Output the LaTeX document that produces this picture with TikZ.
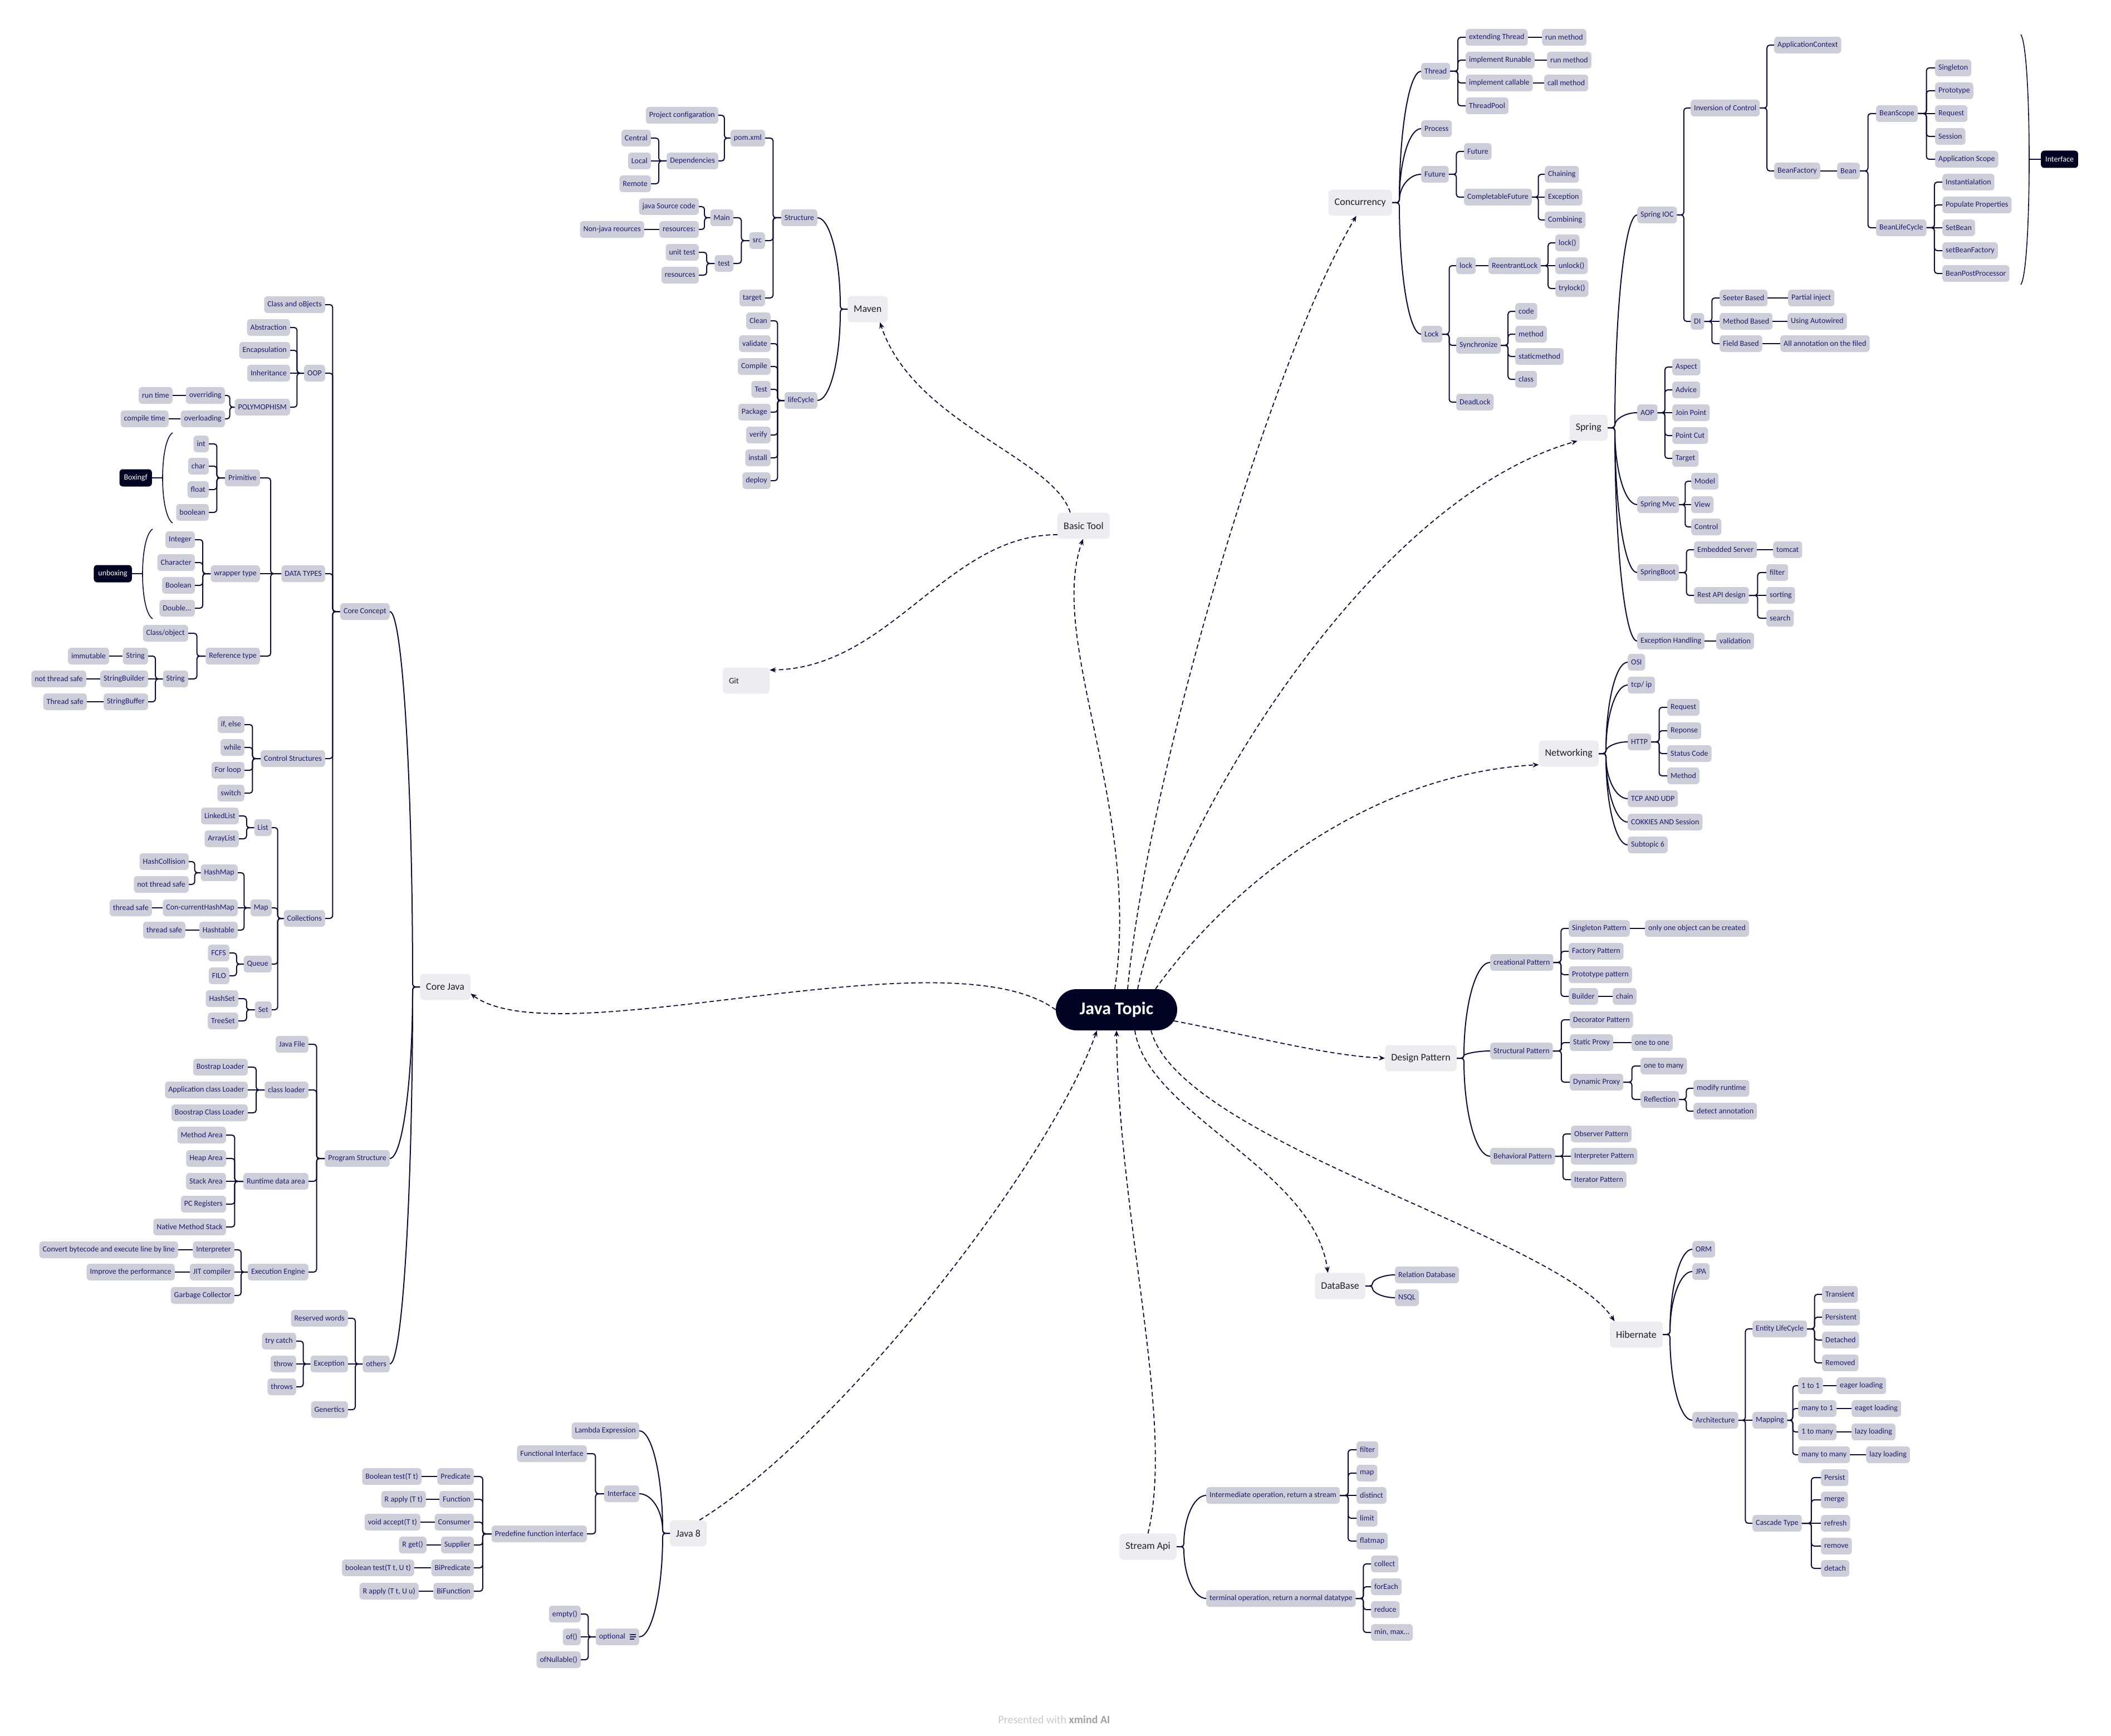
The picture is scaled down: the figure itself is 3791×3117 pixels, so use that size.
\documentclass[tikz,border=0pt]{standalone}
\usepackage{fontspec}
\setmainfont{Carlito}
\usetikzlibrary{arrows.meta, calc}
\usepackage{xcolor}

\definecolor{leafgray}{RGB}{206,206,218}
\definecolor{leafink}{RGB}{28,28,104}
\definecolor{topicgray}{RGB}{237,236,240}
\definecolor{topicink}{RGB}{30,30,40}
\definecolor{hubnavy}{RGB}{3,3,36}
\definecolor{linenavy}{RGB}{12,12,52}
\definecolor{footgray}{RGB}{200,200,206}
\definecolor{footdark}{RGB}{160,160,170}

\tikzset{
  leaf/.style={fill=leafgray, text=leafink, rounded corners=6pt, minimum height=30pt, inner xsep=6pt, inner ysep=2pt, font=\fontsize{14}{16}\selectfont},
  lleaf/.style={leaf, anchor=east},
  rleaf/.style={leaf, anchor=west},
  topic/.style={fill=topicgray, text=topicink, rounded corners=7pt, minimum height=47pt, inner xsep=11pt, font=\fontsize{18}{20}\selectfont},
  hub/.style={fill=hubnavy, text=white, rounded corners=37pt, minimum height=74pt, minimum width=218pt, font=\fontsize{32}{36}\selectfont\bfseries},
  tag/.style={fill=hubnavy, text=white, rounded corners=6pt, minimum height=31pt, inner xsep=8pt, font=\fontsize{14}{16}\selectfont},
  br/.style={draw=linenavy, line width=2pt, rounded corners=5pt},
  brk/.style={draw=linenavy, line width=1.6pt},
  dlink/.style={draw=linenavy, line width=1.8pt, dash pattern=on 8pt off 5pt, -{Stealth[length=11pt,width=9pt]}},
}

% elbow, straight and curved branches
\newcommand{\rbranch}[2]{\draw[br] (#1.east) -| ($(#1.east)!.5!(#2.west)$) |- (#2.west);}
\newcommand{\lbranch}[2]{\draw[br] (#1.west) -| ($(#1.west)!.5!(#2.east)$) |- (#2.east);}
\newcommand{\rline}[2]{\draw[br] (#1.east) -- (#2.west);}
\newcommand{\lline}[2]{\draw[br] (#1.west) -- (#2.east);}
\newcommand{\rcurve}[2]{\draw[br] (#1.east) -- ++(13,0) coordinate (tmp) .. controls ($(tmp)!.55!(tmp |- #2.west)$) and ($(tmp |- #2.west)!.45!(#2.west)$) .. (#2.west);}
\newcommand{\lcurve}[2]{\draw[br] (#1.west) -- ++(-13,0) coordinate (tmp) .. controls ($(tmp)!.55!(tmp |- #2.east)$) and ($(tmp |- #2.east)!.45!(#2.east)$) .. (#2.east);}

\begin{document}
\begin{tikzpicture}[x=1pt, y=-1pt]
  \fill[white] (0,0) rectangle (3791,3117);
  \useasboundingbox (0,0) rectangle (3791,3117);

  % centre and topics
  \node[hub] (root) at (2005,1813) {Java Topic};
  \node[topic] (basic) at (1946,944) {Basic Tool};
  \node[topic, text width=62pt, align=left, font=\fontsize{15}{17}\selectfont] (git) at (1340,1222) {Git};
  \node[topic, anchor=west] (maven) at (1522,555) {Maven};
  \node[topic, anchor=west] (corejava) at (754,1772) {Core Java};
  \node[topic, anchor=west] (java8) at (1203,2753) {Java 8};
  \node[topic, anchor=east] (stream) at (2113,2777) {Stream Api};
  \node[topic, anchor=east] (db) at (2452,2309) {DataBase};
  \node[topic, anchor=east] (hib) at (2986,2396) {Hibernate};
  \node[topic, anchor=east] (dpat) at (2616,1900) {Design Pattern};
  \node[topic, anchor=east] (net) at (2871,1353) {Networking};
  \node[topic, anchor=east] (concur) at (2500,364) {Concurrency};
  \node[topic, anchor=east] (spring) at (2887,768) {Spring};

  % dashed links
  \draw[dlink] ([xshift=-3pt]root.north) .. controls (2050,1450) and (1880,1150) .. ([xshift=-1pt]basic.south);
  \draw[dlink] ([yshift=-16pt]basic.west) .. controls (1700,960) and (1600,1200) .. ([yshift=19pt]git.east);
  \draw[dlink] ([xshift=-24pt]basic.north) .. controls (1890,820) and (1640,760) .. ([xshift=22pt]maven.south);
  \draw[dlink] (root.west) .. controls (1700,1670) and (1000,1900) .. ([yshift=-12pt]corejava.east);
  \draw[dlink] ([xshift=20pt]root.north) .. controls (2060,1400) and (2280,650) .. ([xshift=-7pt]concur.south);
  \draw[dlink] ([xshift=38pt]root.north) .. controls (2100,1500) and (2450,900) .. ([xshift=-20pt]spring.south);
  \draw[dlink] ([xshift=70pt]root.north) .. controls (2200,1600) and (2450,1390) .. ([yshift=-20pt]net.west);
  \draw[dlink] ([xshift=-6pt,yshift=-20pt]root.east) .. controls (2250,1860) and (2380,1895) .. (dpat.west);
  \draw[dlink] ([xshift=33pt]root.south) .. controls (2060,2000) and (2360,2100) .. ([xshift=-22pt]db.north);
  \draw[dlink] ([xshift=62pt]root.south) .. controls (2120,2050) and (2800,2220) .. ([xshift=-39pt]hib.north);
  \draw[dlink] ([xshift=-13pt]java8.north east) .. controls (1500,2580) and (1880,2100) .. ([xshift=-35pt]root.south);
  \draw[dlink] (stream.north) .. controls (2110,2550) and (2010,2200) .. (root.south);

  % Maven
  \node[lleaf] (mvStruct) at (1468,391) {Structure};
  \node[lleaf] (mvLife) at (1468,719) {lifeCycle};
  \node[lleaf] (mvPom) at (1374,248) {pom.xml};
  \node[lleaf] (mvSrc) at (1374,432) {src};
  \node[lleaf] (mvTarget) at (1374,535) {target};
  \node[lleaf] (mvConf) at (1290,207) {Project configaration};
  \node[lleaf] (mvDep) at (1290,289) {Dependencies};
  \node[lleaf] (mvCentral) at (1169,248) {Central};
  \node[lleaf] (mvLocal) at (1169,289) {Local};
  \node[lleaf] (mvRemote) at (1169,330) {Remote};
  \node[lleaf] (mvMain) at (1317,391) {Main};
  \node[lleaf] (mvTest) at (1317,473) {test};
  \node[lleaf] (mvJava) at (1255,371) {java Source code};
  \node[lleaf] (mvRes) at (1255,412) {resources:};
  \node[lleaf] (mvNonJava) at (1157,412) {Non-java reources};
  \node[lleaf] (mvUnit) at (1255,453) {unit test};
  \node[lleaf] (mvRes2) at (1255,494) {resources};
  \node[lleaf] (lcClean) at (1384,576) {Clean};
  \node[lleaf] (lcVal) at (1384,617) {validate};
  \node[lleaf] (lcComp) at (1384,658) {Compile};
  \node[lleaf] (lcTest) at (1384,699) {Test};
  \node[lleaf] (lcPack) at (1384,740) {Package};
  \node[lleaf] (lcVer) at (1384,781) {verify};
  \node[lleaf] (lcInst) at (1384,822) {install};
  \node[lleaf] (lcDep) at (1384,863) {deploy};
  \lcurve{maven}{mvStruct} \lcurve{maven}{mvLife}
  \foreach \x in {mvPom,mvSrc,mvTarget} {\lbranch{mvStruct}{\x}}
  \foreach \x in {mvConf,mvDep} {\lbranch{mvPom}{\x}}
  \foreach \x in {mvCentral,mvRemote} {\lbranch{mvDep}{\x}}
  \lline{mvDep}{mvLocal}
  \foreach \x in {mvMain,mvTest} {\lbranch{mvSrc}{\x}}
  \foreach \x in {mvJava,mvRes} {\lbranch{mvMain}{\x}}
  \lline{mvRes}{mvNonJava}
  \foreach \x in {mvUnit,mvRes2} {\lbranch{mvTest}{\x}}
  \foreach \x in {lcClean,lcVal,lcComp,lcTest,lcPack,lcVer,lcInst,lcDep} {\lbranch{mvLife}{\x}}

  % Core Java
  \node[lleaf] (cjCore) at (700,1098) {Core Concept};
  \node[lleaf] (cjProg) at (700,2080) {Program Structure};
  \node[lleaf] (cjOther) at (700,2449) {others};
  \node[lleaf] (ccClass) at (584,547) {Class and oBjects};
  \node[lleaf] (ccOop) at (584,670) {OOP};
  \node[lleaf] (ccData) at (584,1030) {DATA TYPES};
  \node[lleaf] (ccCtrl) at (584,1362) {Control Structures};
  \node[lleaf] (ccColl) at (584,1649) {Collections};
  \node[lleaf] (ooAbs) at (521,588) {Abstraction};
  \node[lleaf] (ooEnc) at (521,629) {Encapsulation};
  \node[lleaf] (ooInh) at (521,670) {Inheritance};
  \node[lleaf] (ooPoly) at (521,731) {POLYMOPHISM};
  \node[lleaf] (poOver) at (404,710) {overriding};
  \node[lleaf] (poLoad) at (404,752) {overloading};
  \node[lleaf] (poRun) at (310,710) {run time};
  \node[lleaf] (poComp) at (303,752) {compile time};
  \node[lleaf] (dtPrim) at (467,858) {Primitive};
  \node[lleaf] (dtWrap) at (467,1030) {wrapper type};
  \node[lleaf] (dtRef) at (467,1178) {Reference type};
  \node[lleaf] (prInt) at (375,797) {int};
  \node[lleaf] (prChar) at (375,837) {char};
  \node[lleaf] (prFloat) at (375,879) {float};
  \node[lleaf] (prBool) at (375,920) {boolean};
  \node[tag, anchor=east] (boxing) at (273,858) {Boxingf};
  \node[lleaf] (wrInt) at (350,969) {Integer};
  \node[lleaf] (wrChar) at (350,1010) {Character};
  \node[lleaf] (wrBool) at (350,1051) {Boolean};
  \node[lleaf] (wrDbl) at (350,1092) {Double...};
  \node[tag, anchor=east] (unboxing) at (237,1030) {unboxing};
  \node[lleaf] (rfClass) at (338,1137) {Class/object};
  \node[lleaf] (rfStr) at (338,1219) {String};
  \node[lleaf] (stStr) at (266,1178) {String};
  \node[lleaf] (stSb) at (266,1219) {StringBuilder};
  \node[lleaf] (stSbf) at (266,1260) {StringBuffer};
  \node[lleaf] (stImm) at (196,1178) {immutable};
  \node[lleaf] (stNts) at (155,1219) {not thread safe};
  \node[lleaf] (stTs) at (156,1260) {Thread safe};
  \node[lleaf] (ctIf) at (439,1301) {if, else};
  \node[lleaf] (ctWhile) at (439,1342) {while};
  \node[lleaf] (ctFor) at (439,1383) {For loop};
  \node[lleaf] (ctSwitch) at (439,1424) {switch};
  \node[lleaf] (coList) at (488,1486) {List};
  \node[lleaf] (coMap) at (488,1630) {Map};
  \node[lleaf] (coQueue) at (488,1731) {Queue};
  \node[lleaf] (coSet) at (488,1813) {Set};
  \node[lleaf] (liLinked) at (429,1465) {LinkedList};
  \node[lleaf] (liArray) at (429,1506) {ArrayList};
  \node[lleaf] (maHash) at (427,1567) {HashMap};
  \node[lleaf] (maConc) at (427,1630) {Con-currentHashMap};
  \node[lleaf] (maTable) at (427,1670) {Hashtable};
  \node[lleaf] (hmColl) at (339,1547) {HashCollision};
  \node[lleaf] (hmNts) at (339,1588) {not thread safe};
  \node[lleaf] (mcTs) at (273,1630) {thread safe};
  \node[lleaf] (mtTs) at (333,1670) {thread safe};
  \node[lleaf] (quFcfs) at (412,1711) {FCFS};
  \node[lleaf] (quFilo) at (412,1752) {FILO};
  \node[lleaf] (seHash) at (428,1793) {HashSet};
  \node[lleaf] (seTree) at (428,1833) {TreeSet};
  \node[lleaf] (psFile) at (554,1875) {Java File};
  \node[lleaf] (psLoader) at (554,1957) {class loader};
  \node[lleaf] (psRun) at (554,2121) {Runtime data area};
  \node[lleaf] (psExec) at (554,2284) {Execution Engine};
  \node[lleaf] (clBoot) at (445,1916) {Bostrap Loader};
  \node[lleaf] (clApp) at (445,1957) {Application class Loader};
  \node[lleaf] (clBoot2) at (445,1998) {Boostrap Class Loader};
  \node[lleaf] (rtMethod) at (406,2038) {Method Area};
  \node[lleaf] (rtHeap) at (406,2080) {Heap Area};
  \node[lleaf] (rtStack) at (406,2121) {Stack Area};
  \node[lleaf] (rtPc) at (406,2162) {PC Registers};
  \node[lleaf] (rtNative) at (406,2203) {Native Method Stack};
  \node[lleaf] (exInt) at (421,2244) {Interpreter};
  \node[lleaf] (exJit) at (421,2284) {JIT compiler};
  \node[lleaf] (exGc) at (421,2326) {Garbage Collector};
  \node[lleaf] (exConv) at (320,2244) {Convert bytecode and execute line by line};
  \node[lleaf] (exPerf) at (314,2284) {Improve the performance};
  \node[lleaf] (otRes) at (625,2367) {Reserved words};
  \node[lleaf] (otExc) at (625,2449) {Exception};
  \node[lleaf] (otGen) at (625,2531) {Genertics};
  \node[lleaf] (exTry) at (532,2408) {try catch};
  \node[lleaf] (exThrow) at (532,2449) {throw};
  \node[lleaf] (exThrows) at (532,2490) {throws};
  \foreach \x in {cjCore,cjProg,cjOther} {\lcurve{corejava}{\x}}
  \foreach \x in {ccClass,ccOop,ccData,ccCtrl,ccColl} {\lbranch{cjCore}{\x}}
  \foreach \x in {ooAbs,ooEnc,ooPoly} {\lbranch{ccOop}{\x}}
  \lline{ccOop}{ooInh}
  \foreach \x in {poOver,poLoad} {\lbranch{ooPoly}{\x}}
  \lline{poOver}{poRun} \lline{poLoad}{poComp}
  \foreach \x in {dtPrim,dtRef} {\lbranch{ccData}{\x}}
  \lline{ccData}{dtWrap}
  \foreach \x in {prInt,prChar,prFloat,prBool} {\lbranch{dtPrim}{\x}}
  \foreach \x in {wrInt,wrChar,wrBool,wrDbl} {\lbranch{dtWrap}{\x}}
  \foreach \x in {rfClass,rfStr} {\lbranch{dtRef}{\x}}
  \foreach \x in {stStr,stSbf} {\lbranch{rfStr}{\x}}
  \lline{rfStr}{stSb}
  \lline{stStr}{stImm} \lline{stSb}{stNts} \lline{stSbf}{stTs}
  \foreach \x in {ctIf,ctWhile,ctFor,ctSwitch} {\lbranch{ccCtrl}{\x}}
  \foreach \x in {coList,coMap,coQueue,coSet} {\lbranch{ccColl}{\x}}
  \foreach \x in {liLinked,liArray} {\lbranch{coList}{\x}}
  \foreach \x in {maHash,maTable} {\lbranch{coMap}{\x}}
  \lline{coMap}{maConc}
  \foreach \x in {hmColl,hmNts} {\lbranch{maHash}{\x}}
  \lline{maConc}{mcTs} \lline{maTable}{mtTs}
  \foreach \x in {quFcfs,quFilo} {\lbranch{coQueue}{\x}}
  \foreach \x in {seHash,seTree} {\lbranch{coSet}{\x}}
  \foreach \x in {psFile,psLoader,psRun,psExec} {\lbranch{cjProg}{\x}}
  \foreach \x in {clBoot,clBoot2} {\lbranch{psLoader}{\x}}
  \lline{psLoader}{clApp}
  \foreach \x in {rtMethod,rtHeap,rtPc,rtNative} {\lbranch{psRun}{\x}}
  \lline{psRun}{rtStack}
  \foreach \x in {exInt,exGc} {\lbranch{psExec}{\x}}
  \lline{psExec}{exJit}
  \lline{exInt}{exConv} \lline{exJit}{exPerf}
  \foreach \x in {otRes,otGen} {\lbranch{cjOther}{\x}}
  \lline{cjOther}{otExc}
  \foreach \x in {exTry,exThrows} {\lbranch{otExc}{\x}}
  \lline{otExc}{exThrow}
  % boxing brackets
  \draw[brk] (310,777) .. controls (286,792) and (286,924) .. (310,939);
  \draw[brk] (292,858) -- (boxing.east);
  \draw[brk] (274,950) .. controls (250,965) and (250,1096) .. (274,1111);
  \draw[brk] (256,1030) -- (unboxing.east);

  % Java 8
  \node[lleaf] (j8Lambda) at (1148,2569) {Lambda Expression};
  \node[lleaf] (j8Iface) at (1148,2682) {Interface};
  \node[lleaf, text width=66pt, align=left] (j8Opt) at (1148,2939) {optional};
  \node[lleaf] (ifFunc) at (1054,2610) {Functional Interface};
  \node[lleaf] (ifPre) at (1054,2754) {Predefine function interface};
  \node[lleaf] (pfPred) at (851,2651) {Predicate};
  \node[lleaf] (pfFunc) at (851,2692) {Function};
  \node[lleaf] (pfCons) at (851,2733) {Consumer};
  \node[lleaf] (pfSupp) at (851,2774) {Supplier};
  \node[lleaf] (pfBiP) at (851,2815) {BiPredicate};
  \node[lleaf] (pfBiF) at (851,2857) {BiFunction};
  \node[lleaf] (pfPredM) at (757,2651) {Boolean test(T t)};
  \node[lleaf] (pfFuncM) at (765,2692) {R apply (T t)};
  \node[lleaf] (pfConsM) at (755,2733) {void accept(T t)};
  \node[lleaf] (pfSuppM) at (766,2774) {R get()};
  \node[lleaf] (pfBiPM) at (744,2815) {boolean test(T t, U t)};
  \node[lleaf] (pfBiFM) at (752,2857) {R apply (T t, U u)};
  \node[lleaf] (opEmpty) at (1043,2898) {empty()};
  \node[lleaf] (opOf) at (1043,2939) {of()};
  \node[lleaf] (opNull) at (1043,2980) {ofNullable()};
  \foreach \x in {j8Lambda,j8Iface,j8Opt} {\lcurve{java8}{\x}}
  \foreach \x in {ifFunc,ifPre} {\lbranch{j8Iface}{\x}}
  \foreach \x in {pfPred,pfFunc,pfCons,pfSupp,pfBiP,pfBiF} {\lbranch{ifPre}{\x}}
  \foreach \x in {pfPred,pfFunc,pfCons,pfSupp,pfBiP,pfBiF} {\lline{\x}{\x M}}
  \foreach \x in {opEmpty,opNull} {\lbranch{j8Opt}{\x}}
  \lline{j8Opt}{opOf}
  \foreach \dy/\len in {4/11,0/11,-4/8} {\draw[leafink, line width=1.1pt] ([xshift=-17pt,yshift=\dy pt]j8Opt.east) -- ++(\len,0);}

  % Stream Api
  \node[rleaf] (stInter) at (2166,2685) {Intermediate operation, return a stream};
  \node[rleaf] (stTerm) at (2166,2870) {terminal operation, return a normal datatype};
  \node[rleaf] (siFilter) at (2436,2603) {filter};
  \node[rleaf] (siMap) at (2436,2645) {map};
  \node[rleaf] (siDist) at (2436,2685) {distinct};
  \node[rleaf] (siLimit) at (2436,2726) {limit};
  \node[rleaf] (siFlat) at (2436,2767) {flatmap};
  \node[rleaf] (tmCollect) at (2462,2808) {collect};
  \node[rleaf] (tmEach) at (2462,2849) {forEach};
  \node[rleaf] (tmReduce) at (2462,2890) {reduce};
  \node[rleaf] (tmMin) at (2462,2931) {min, max...};
  \rcurve{stream}{stInter} \rcurve{stream}{stTerm}
  \foreach \x in {siFilter,siMap,siLimit,siFlat} {\rbranch{stInter}{\x}}
  \rline{stInter}{siDist}
  \foreach \x in {tmCollect,tmEach,tmReduce,tmMin} {\rbranch{stTerm}{\x}}

  % DataBase
  \node[rleaf] (dbRel) at (2505,2289) {Relation Database};
  \node[rleaf] (dbNo) at (2505,2330) {NSQL};
  \rcurve{db}{dbRel} \rcurve{db}{dbNo}

  % Hibernate
  \node[rleaf] (hbOrm) at (3039,2243) {ORM};
  \node[rleaf] (hbJpa) at (3039,2283) {JPA};
  \node[rleaf] (hbArch) at (3039,2550) {Architecture};
  \node[rleaf] (arEnt) at (3147,2386) {Entity LifeCycle};
  \node[rleaf] (arMap) at (3147,2550) {Mapping};
  \node[rleaf] (arCas) at (3147,2735) {Cascade Type};
  \node[rleaf] (enTrans) at (3272,2324) {Transient};
  \node[rleaf] (enPers) at (3272,2365) {Persistent};
  \node[rleaf] (enDet) at (3272,2406) {Detached};
  \node[rleaf] (enRem) at (3272,2447) {Removed};
  \node[rleaf] (mpOne) at (3229,2488) {1 to 1};
  \node[rleaf] (mpManyOne) at (3229,2529) {many to 1};
  \node[rleaf] (mpOneMany) at (3229,2571) {1 to many};
  \node[rleaf] (mpManyMany) at (3229,2612) {many to many};
  \node[rleaf] (ldOne) at (3298,2488) {eager loading};
  \node[rleaf] (ldManyOne) at (3325,2529) {eaget loading};
  \node[rleaf] (ldOneMany) at (3325,2571) {lazy loading};
  \node[rleaf] (ldManyMany) at (3351,2612) {lazy loading};
  \node[rleaf] (caPersist) at (3270,2653) {Persist};
  \node[rleaf] (caMerge) at (3270,2693) {merge};
  \node[rleaf] (caRefresh) at (3270,2735) {refresh};
  \node[rleaf] (caRemove) at (3270,2776) {remove};
  \node[rleaf] (caDetach) at (3270,2816) {detach};
  \foreach \x in {hbOrm,hbJpa,hbArch} {\rcurve{hib}{\x}}
  \foreach \x in {arEnt,arCas} {\rbranch{hbArch}{\x}}
  \rline{hbArch}{arMap}
  \foreach \x in {enTrans,enPers,enDet,enRem} {\rbranch{arEnt}{\x}}
  \foreach \x in {mpOne,mpManyOne,mpOneMany,mpManyMany} {\rbranch{arMap}{\x}}
  \rline{mpOne}{ldOne} \rline{mpManyOne}{ldManyOne} \rline{mpOneMany}{ldOneMany} \rline{mpManyMany}{ldManyMany}
  \foreach \x in {caPersist,caMerge,caRemove,caDetach} {\rbranch{arCas}{\x}}
  \rline{arCas}{caRefresh}

  % Design Pattern
  \node[rleaf] (dpCre) at (2676,1728) {creational Pattern};
  \node[rleaf] (dpStr) at (2676,1887) {Structural Pattern};
  \node[rleaf] (dpBeh) at (2676,2076) {Behavioral Pattern};
  \node[rleaf] (dpSing) at (2817,1667) {Singleton Pattern};
  \node[rleaf] (dpFact) at (2817,1708) {Factory Pattern};
  \node[rleaf] (dpProto) at (2817,1750) {Prototype pattern};
  \node[rleaf] (dpBuild) at (2817,1789) {Builder};
  \node[rleaf] (dpOnly) at (2954,1667) {only one object can be created};
  \node[rleaf] (dpChain) at (2896,1789) {chain};
  \node[rleaf] (dpDeco) at (2819,1831) {Decorator Pattern};
  \node[rleaf] (dpStatic) at (2819,1872) {Static Proxy};
  \node[rleaf] (dpDyn) at (2819,1943) {Dynamic Proxy};
  \node[rleaf] (dpOne) at (2930,1872) {one to one};
  \node[rleaf] (dpMany) at (2946,1914) {one to many};
  \node[rleaf] (dpRefl) at (2946,1974) {Reflection};
  \node[rleaf] (dpMod) at (3041,1954) {modify runtime};
  \node[rleaf] (dpDet) at (3041,1995) {detect annotation};
  \node[rleaf] (dpObs) at (2821,2036) {Observer Pattern};
  \node[rleaf] (dpInt) at (2821,2076) {Interpreter Pattern};
  \node[rleaf] (dpIter) at (2821,2118) {Iterator Pattern};
  \foreach \x in {dpCre,dpStr,dpBeh} {\rcurve{dpat}{\x}}
  \foreach \x in {dpSing,dpFact,dpProto,dpBuild} {\rbranch{dpCre}{\x}}
  \rline{dpSing}{dpOnly} \rline{dpBuild}{dpChain}
  \foreach \x in {dpDeco,dpStatic,dpDyn} {\rbranch{dpStr}{\x}}
  \rline{dpStatic}{dpOne}
  \foreach \x in {dpMany,dpRefl} {\rbranch{dpDyn}{\x}}
  \foreach \x in {dpMod,dpDet} {\rbranch{dpRefl}{\x}}
  \foreach \x in {dpObs,dpIter} {\rbranch{dpBeh}{\x}}
  \rline{dpBeh}{dpInt}

  % Networking
  \node[rleaf] (nwOsi) at (2923,1189) {OSI};
  \node[rleaf] (nwTcp) at (2923,1230) {tcp/ ip};
  \node[rleaf] (nwHttp) at (2923,1332) {HTTP};
  \node[rleaf] (nwTu) at (2923,1434) {TCP AND UDP};
  \node[rleaf] (nwCook) at (2923,1476) {COKKIES AND Session};
  \node[rleaf] (nwSub) at (2923,1517) {Subtopic 6};
  \node[rleaf] (htReq) at (2994,1270) {Request};
  \node[rleaf] (htRes) at (2994,1312) {Reponse};
  \node[rleaf] (htCode) at (2994,1353) {Status Code};
  \node[rleaf] (htMeth) at (2994,1393) {Method};
  \foreach \x in {nwOsi,nwTcp,nwHttp,nwTu,nwCook,nwSub} {\rcurve{net}{\x}}
  \foreach \x in {htReq,htRes,htCode,htMeth} {\rbranch{nwHttp}{\x}}

  % Concurrency
  \node[rleaf] (cuThread) at (2552,128) {Thread};
  \node[rleaf] (cuProc) at (2552,231) {Process};
  \node[rleaf] (cuFut) at (2552,313) {Future};
  \node[rleaf] (cuLock) at (2552,600) {Lock};
  \node[rleaf] (thExt) at (2632,67) {extending Thread};
  \node[rleaf] (thRun) at (2632,108) {implement Runable};
  \node[rleaf] (thCall) at (2632,149) {implement callable};
  \node[rleaf] (thPool) at (2632,190) {ThreadPool};
  \node[rleaf] (thExtM) at (2769,67) {run method};
  \node[rleaf] (thRunM) at (2778,108) {run method};
  \node[rleaf] (thCallM) at (2773,149) {call method};
  \node[rleaf] (fuFut) at (2629,272) {Future};
  \node[rleaf] (fuComp) at (2629,354) {CompletableFuture};
  \node[rleaf] (fuChain) at (2774,313) {Chaining};
  \node[rleaf] (fuExc) at (2774,354) {Exception};
  \node[rleaf] (fuComb) at (2774,395) {Combining};
  \node[rleaf] (lkLock) at (2615,477) {lock};
  \node[rleaf] (lkSync) at (2615,620) {Synchronize};
  \node[rleaf] (lkDead) at (2615,722) {DeadLock};
  \node[rleaf] (lkRe) at (2673,477) {ReentrantLock};
  \node[rleaf] (reLock) at (2793,436) {lock()};
  \node[rleaf] (reUnlock) at (2793,477) {unlock()};
  \node[rleaf] (reTry) at (2793,518) {trylock()};
  \node[rleaf] (syCode) at (2721,559) {code};
  \node[rleaf] (syMeth) at (2721,600) {method};
  \node[rleaf] (syStatic) at (2721,640) {staticmethod};
  \node[rleaf] (syClass) at (2721,681) {class};
  \foreach \x in {cuThread,cuProc,cuFut,cuLock} {\rcurve{concur}{\x}}
  \foreach \x in {thExt,thRun,thCall,thPool} {\rbranch{cuThread}{\x}}
  \rline{thExt}{thExtM} \rline{thRun}{thRunM} \rline{thCall}{thCallM}
  \foreach \x in {fuFut,fuComp} {\rbranch{cuFut}{\x}}
  \foreach \x in {fuChain,fuComb} {\rbranch{fuComp}{\x}}
  \rline{fuComp}{fuExc}
  \foreach \x in {lkLock,lkSync,lkDead} {\rbranch{cuLock}{\x}}
  \rline{lkLock}{lkRe}
  \foreach \x in {reLock,reTry} {\rbranch{lkRe}{\x}}
  \rline{lkRe}{reUnlock}
  \foreach \x in {syCode,syMeth,syStatic,syClass} {\rbranch{lkSync}{\x}}

  % Spring
  \node[rleaf] (spIoc) at (2940,386) {Spring IOC};
  \node[rleaf] (spAop) at (2940,741) {AOP};
  \node[rleaf] (spMvc) at (2940,906) {Spring Mvc};
  \node[rleaf] (spBoot) at (2940,1028) {SpringBoot};
  \node[rleaf] (spExc) at (2940,1151) {Exception Handling};
  \node[rleaf] (ioInv) at (3036,194) {Inversion of Control};
  \node[rleaf] (ioDi) at (3036,577) {DI};
  \node[rleaf] (ivCtx) at (3186,81) {ApplicationContext};
  \node[rleaf] (ivFact) at (3186,307) {BeanFactory};
  \node[rleaf] (ivBean) at (3299,307) {Bean};
  \node[rleaf] (bnScope) at (3369,204) {BeanScope};
  \node[rleaf] (bnLife) at (3369,409) {BeanLifeCycle};
  \node[rleaf] (scSing) at (3475,122) {Singleton};
  \node[rleaf] (scProto) at (3475,163) {Prototype};
  \node[rleaf] (scReq) at (3475,204) {Request};
  \node[rleaf] (scSess) at (3475,245) {Session};
  \node[rleaf] (scApp) at (3475,286) {Application Scope};
  \node[rleaf] (lfInst) at (3488,327) {Instantialation};
  \node[rleaf] (lfPop) at (3488,368) {Populate Properties};
  \node[rleaf] (lfSet) at (3488,409) {SetBean};
  \node[rleaf] (lfSetF) at (3488,450) {setBeanFactory};
  \node[rleaf] (lfPost) at (3488,491) {BeanPostProcessor};
  \node[tag, anchor=west] (iface) at (3665,286) {Interface};
  \node[rleaf] (diSet) at (3088,535) {Seeter Based};
  \node[rleaf] (diMeth) at (3088,577) {Method Based};
  \node[rleaf] (diField) at (3088,617) {Field Based};
  \node[rleaf] (diSetM) at (3211,535) {Partial inject};
  \node[rleaf] (diMethM) at (3210,577) {Using Autowired};
  \node[rleaf] (diFieldM) at (3197,617) {All annotation on the filed};
  \node[rleaf] (aoAsp) at (3003,659) {Aspect};
  \node[rleaf] (aoAdv) at (3003,700) {Advice};
  \node[rleaf] (aoJoin) at (3003,741) {Join Point};
  \node[rleaf] (aoCut) at (3003,782) {Point Cut};
  \node[rleaf] (aoTgt) at (3003,823) {Target};
  \node[rleaf] (mvcModel) at (3037,864) {Model};
  \node[rleaf] (mvcView) at (3037,906) {View};
  \node[rleaf] (mvcCtrl) at (3037,946) {Control};
  \node[rleaf] (btEmb) at (3042,987) {Embedded Server};
  \node[rleaf] (btRest) at (3042,1069) {Rest API design};
  \node[rleaf] (btTom) at (3184,987) {tomcat};
  \node[rleaf] (rsFilter) at (3172,1028) {filter};
  \node[rleaf] (rsSort) at (3172,1069) {sorting};
  \node[rleaf] (rsSearch) at (3172,1110) {search};
  \node[rleaf] (exVal) at (3082,1151) {validation};
  \foreach \x in {spIoc,spAop,spMvc,spBoot,spExc} {\rcurve{spring}{\x}}
  \foreach \x in {ioInv,ioDi} {\rbranch{spIoc}{\x}}
  \foreach \x in {ivCtx,ivFact} {\rbranch{ioInv}{\x}}
  \rline{ivFact}{ivBean}
  \foreach \x in {bnScope,bnLife} {\rbranch{ivBean}{\x}}
  \foreach \x in {scSing,scProto,scSess,scApp} {\rbranch{bnScope}{\x}}
  \rline{bnScope}{scReq}
  \foreach \x in {lfInst,lfPop,lfSetF,lfPost} {\rbranch{bnLife}{\x}}
  \rline{bnLife}{lfSet}
  \draw[brk] (3629,62) .. controls (3649,90) and (3649,483) .. (3629,511);
  \draw[brk] (3644,286) -- (iface.west);
  \foreach \x in {diSet,diField} {\rbranch{ioDi}{\x}}
  \rline{ioDi}{diMeth}
  \rline{diSet}{diSetM} \rline{diMeth}{diMethM} \rline{diField}{diFieldM}
  \foreach \x in {aoAsp,aoAdv,aoCut,aoTgt} {\rbranch{spAop}{\x}}
  \rline{spAop}{aoJoin}
  \foreach \x in {mvcModel,mvcCtrl} {\rbranch{spMvc}{\x}}
  \rline{spMvc}{mvcView}
  \foreach \x in {btEmb,btRest} {\rbranch{spBoot}{\x}}
  \rline{btEmb}{btTom}
  \foreach \x in {rsFilter,rsSearch} {\rbranch{btRest}{\x}}
  \rline{btRest}{rsSort}
  \rline{spExc}{exVal}

  % footer
  \node[font=\fontsize{20}{22}\selectfont, text=footgray] (foot) at (1893,3088) {Presented with \textcolor{footdark}{\bfseries xmind AI}};
\end{tikzpicture}
\end{document}
